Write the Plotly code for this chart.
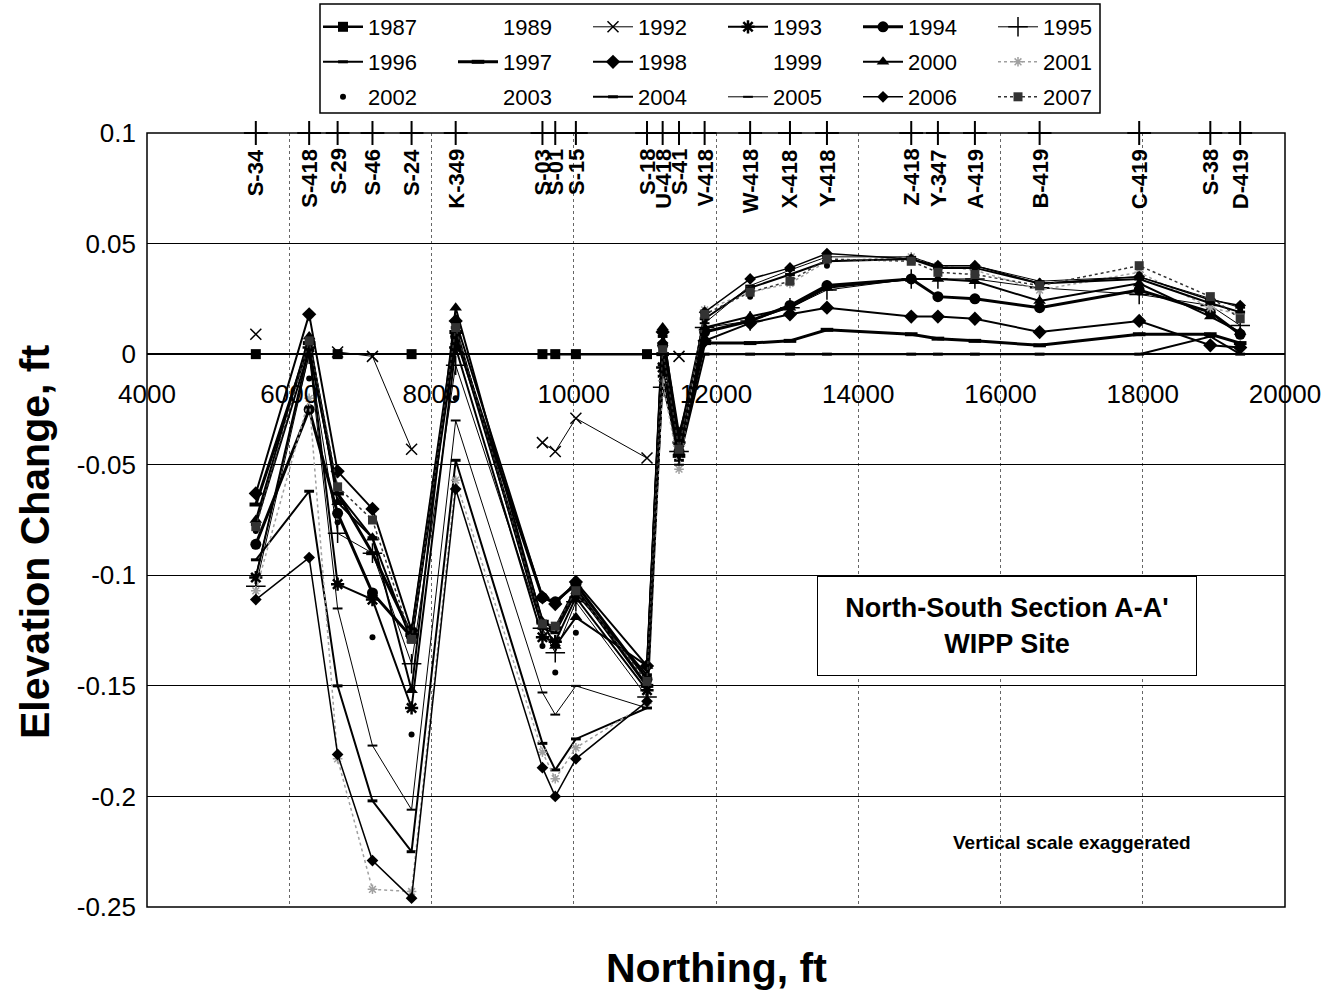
import plotly.graph_objects as go

N = None

# Survey stations along the north-south line and their northing (ft)
stations = ["S-34", "S-418", "S-29", "S-46", "S-24", "K-349", "S-03", "S-01", "S-15",
            "S-18", "U-418", "S-41", "V-418", "W-418", "X-418", "Y-418", "Z-418",
            "Y-347", "A-419", "B-419", "C-419", "S-38", "D-419"]
northing = [5530, 6280, 6680, 7170, 7720, 8340, 9560, 9740, 10030, 11030, 11250, 11480,
            11840, 12480, 13040, 13560, 14745, 15120, 15640, 16550, 17950, 18950, 19370]

# Elevation change (ft) per survey year, one value per station
y1987 = [0, N, 0, N, 0, N, 0, 0, 0, 0] + [N] * 13
y1989 = [N] * 23
y1992 = [0.009, N, 0.001, -0.001, -0.043, N, -0.040, -0.044, -0.029, -0.047, N, -0.001] + [N] * 11
y1993 = [-0.101, 0.003, -0.104, -0.111, -0.160, 0.003, -0.128, -0.130, -0.110, -0.152, -0.006, -0.040] + [N] * 11
y1994 = [-0.086, -0.025, -0.072, -0.108, -0.128, 0.008, -0.110, -0.112, -0.104, -0.147, 0.004, -0.044, 0.010,
         0.015, 0.022, 0.031, 0.034, 0.026, 0.025, 0.021, 0.029, 0.019, 0.009]
y1995 = [-0.105, 0.000, -0.081, -0.090, -0.140, -0.005, -0.124, -0.135, -0.112, -0.155, -0.015, -0.044, 0.012,
         0.015, 0.021, 0.029, 0.034, 0.034, 0.034, 0.030, 0.027, 0.022, 0.013]
y1996 = [-0.093, -0.062, -0.150, -0.202, -0.225, -0.048, -0.176, -0.188, -0.174, -0.160, -0.010, -0.048, 0.000,
         0.000, 0.000, 0.000, 0.000, 0.000, 0.000, 0.000, 0.000, 0.008, 0.000]
y1997 = [-0.068, 0.005, -0.063, -0.090, -0.127, 0.010, -0.121, -0.124, -0.106, -0.150, 0.000, -0.046, 0.005,
         0.005, 0.006, 0.011, 0.009, 0.007, 0.006, 0.004, 0.009, 0.009, 0.005]
y1998 = [-0.063, 0.018, -0.053, -0.070, -0.125, 0.015, -0.110, -0.113, -0.103, -0.141, 0.010, -0.036, 0.006,
         0.014, 0.018, 0.021, 0.017, 0.017, 0.016, 0.010, 0.015, 0.004, 0.003]
y1999 = [N] * 23
y2000 = [-0.075, 0.008, -0.067, -0.083, -0.152, 0.021, -0.121, -0.132, -0.119, -0.141, 0.012, -0.040, 0.012,
         0.017, 0.021, 0.030, 0.034, 0.034, 0.033, 0.024, 0.032, 0.017, 0.010]
y2001 = [-0.107, -0.020, -0.183, -0.242, -0.243, -0.057, -0.180, -0.192, -0.178, -0.158, -0.012, -0.052, 0.020,
         0.028, 0.032, 0.042, 0.044, 0.040, 0.038, 0.029, 0.037, 0.021, 0.018]
y2002 = [-0.080, -0.011, -0.076, -0.128, -0.172, -0.020, -0.132, -0.144, -0.126, -0.152, -0.006, -0.045, 0.015,
         0.026, 0.034, 0.040, 0.042, 0.038, 0.038, 0.032, 0.036, 0.024, 0.020]
y2003 = [N] * 23
y2004 = [-0.077, 0.002, -0.063, -0.083, -0.130, 0.012, -0.124, -0.126, -0.108, -0.145, 0.008, -0.038, 0.016,
         0.030, 0.036, 0.042, 0.043, 0.039, 0.039, 0.032, 0.034, 0.023, 0.019]
y2005 = [-0.100, 0.000, -0.115, -0.177, -0.206, -0.030, -0.153, -0.163, -0.150, -0.160, -0.005, -0.050, 0.014,
         0.031, 0.038, 0.044, 0.044, 0.040, 0.040, 0.033, 0.035, 0.025, 0.021]
y2006 = [-0.111, -0.092, -0.181, -0.229, -0.246, -0.061, -0.187, -0.200, -0.183, -0.157, 0.005, -0.045, 0.019,
         0.034, 0.039, 0.0455, 0.043, 0.040, 0.040, 0.032, 0.035, 0.0245, 0.022]
y2007 = [-0.078, 0.006, -0.060, -0.075, -0.129, 0.012, -0.122, -0.123, -0.107, -0.148, 0.002, -0.043, 0.018,
         0.028, 0.033, 0.043, 0.042, 0.037, 0.036, 0.031, 0.040, 0.026, 0.016]

years = ["1987", "1989", "1992", "1993", "1994", "1995",
         "1996", "1997", "1998", "1999", "2000", "2001",
         "2002", "2003", "2004", "2005", "2006", "2007"]
values = [y1987, y1989, y1992, y1993, y1994, y1995,
          y1996, y1997, y1998, y1999, y2000, y2001,
          y2002, y2003, y2004, y2005, y2006, y2007]

y_ticks = [0.1, 0.05, 0, -0.05, -0.1, -0.15, -0.2, -0.25]
y_tick_text = ["0.1", "0.05", "0", "-0.05", "-0.1", "-0.15", "-0.2", "-0.25"]
x_ticks = [4000, 6000, 8000, 10000, 12000, 14000, 16000, 18000, 20000]
x_tick_text = [str(v) for v in x_ticks]

BLK = "black"
CLEAR = "rgba(0,0,0,0)"
# mode, line colour, width, dash, marker symbol, marker size, marker line width
styles = {
    "1987": ("lines+markers", BLK, 2.5, "solid", "square", 10, 0),
    "1989": ("lines", CLEAR, 1, "solid", "circle", 1, 0),
    "1992": ("lines+markers", BLK, 1, "solid", "x-thin-open", 11, 1.5),
    "1993": ("lines+markers", BLK, 2, "solid", "asterisk-open", 11, 2.5),
    "1994": ("lines+markers", BLK, 3, "solid", "circle", 11, 0),
    "1995": ("lines+markers", BLK, 1, "solid", "cross-thin-open", 14, 1.5),
    "1996": ("lines+markers", BLK, 2, "solid", "line-ew-open", 7, 3),
    "1997": ("lines+markers", BLK, 3, "solid", "line-ew-open", 9, 4),
    "1998": ("lines+markers", BLK, 2, "solid", "diamond", 11, 0),
    "1999": ("lines", CLEAR, 1, "solid", "circle", 1, 0),
    "2000": ("lines+markers", BLK, 2, "solid", "triangle-up", 11, 0),
    "2001": ("lines+markers", "#a0a0a0", 1.5, "dot", "asterisk-open", 8, 1.5),
    "2002": ("markers", BLK, 1, "solid", "circle", 6, 0),
    "2003": ("lines", CLEAR, 1, "solid", "circle", 1, 0),
    "2004": ("lines+markers", BLK, 2, "solid", "line-ew-open", 7, 3),
    "2005": ("lines+markers", BLK, 1, "solid", "line-ew-open", 7, 2),
    "2006": ("lines+markers", BLK, 1.5, "solid", "diamond", 9, 0),
    "2007": ("lines+markers", "#333333", 1.5, "dot", "square", 9, 0),
}

FONT = "Arial, Liberation Sans, sans-serif"
FIG_W, FIG_H = 1344, 996
fig = go.Figure()

# Station markers along the top edge
fig.add_trace(go.Scatter(
    x=northing, y=[0.1] * len(northing), mode="markers",
    marker=dict(symbol="cross-thin-open", size=17, color=BLK,
                line=dict(width=2, color=BLK)),
    cliponaxis=False, showlegend=False, hoverinfo="text", text=stations))

legend_names = ["legend", "legend2", "legend3"]
for i, (yr, vals) in enumerate(zip(years, values)):
    mode, col, w, dash, sym, msz, mlw = styles[yr]
    fig.add_trace(go.Scatter(
        x=northing, y=vals, name=yr, mode=mode,
        line=dict(color=col, width=w, dash=dash),
        marker=dict(symbol=sym, size=msz, color=col,
                    line=dict(width=mlw, color=col)),
        connectgaps=False, cliponaxis=False,
        legend=legend_names[i // 6]))

# Station name labels, rotated
for name, xn in zip(stations, northing):
    fig.add_annotation(x=xn, y=0.1, xref="x", yref="y", text=name,
                       textangle=-90, showarrow=False, xanchor="center", yanchor="top",
                       yshift=-14, font=dict(family=FONT, size=22, color=BLK, weight="bold"))

# Plot area: 147..1285 px wide, 133..907 px tall
L, R, T, B = 147, 1285, 133, 907
W, H = R - L, B - T

def px_x(p):
    return (p - L) / W

def px_y(p):
    return (B - p) / H

def cx(p):
    return p / FIG_W

def cy(p):
    return 1 - p / FIG_H

leg_common = dict(orientation="h", xanchor="left", yanchor="top",
                  xref="container", yref="container",
                  font=dict(family=FONT, size=22, color=BLK),
                  bgcolor=CLEAR, borderwidth=0, itemwidth=40,
                  entrywidth=80, entrywidthmode="pixels",
                  tracegroupgap=0, itemclick=False)
fig.update_layout(
    legend=dict(x=cx(318), y=cy(6), **leg_common),
    legend2=dict(x=cx(318), y=cy(41), **leg_common),
    legend3=dict(x=cx(318), y=cy(76), **leg_common),
)

# Legend frame
fig.add_shape(type="rect", xref="paper", yref="paper",
              x0=px_x(320), x1=px_x(1100), y0=px_y(113), y1=px_y(4),
              line=dict(color=BLK, width=1.5))
# Plot frame
fig.add_shape(type="rect", xref="paper", yref="paper", x0=0, x1=1, y0=0, y1=1,
              line=dict(color=BLK, width=1.5), layer="above")

# Text box
fig.add_annotation(x=px_x(1007), y=px_y(626), xref="paper", yref="paper",
                   xanchor="center", yanchor="middle",
                   text="North-South Section A-A'<br>WIPP Site", showarrow=False,
                   font=dict(family=FONT, size=27, color=BLK, weight="bold"),
                   bordercolor=BLK, borderwidth=1, borderpad=4, bgcolor="white",
                   width=370, height=90, align="center")
fig.add_annotation(x=px_x(1072), y=px_y(842), xref="paper", yref="paper",
                   xanchor="center", yanchor="middle",
                   text="Vertical scale exaggerated", showarrow=False,
                   font=dict(family=FONT, size=19, color=BLK, weight="bold"))

# Axis titles
fig.add_annotation(x=0.5, y=px_y(968), xref="paper", yref="paper",
                   xanchor="center", yanchor="middle",
                   text="Northing, ft", showarrow=False,
                   font=dict(family=FONT, size=41, color=BLK, weight="bold"))
fig.add_annotation(x=px_x(35), y=px_y(542), xref="paper", yref="paper",
                   xanchor="center", yanchor="middle",
                   text="Elevation Change, ft", showarrow=False, textangle=-90,
                   font=dict(family=FONT, size=41, color=BLK, weight="bold"))

fig.update_xaxes(range=[4000, 20000], tickvals=x_ticks, ticktext=x_tick_text, ticks="",
                 tickfont=dict(family=FONT, size=26, color=BLK),
                 showgrid=True, gridcolor="#666666", griddash="dot", gridwidth=1,
                 anchor="free", position=0.25 / 0.35, showline=True,
                 linecolor=BLK, linewidth=1.5, zeroline=False,
                 ticklabelstandoff=17)
fig.update_yaxes(range=[-0.25, 0.1], tickvals=y_ticks, ticktext=y_tick_text,
                 ticks="", tickfont=dict(family=FONT, size=26, color=BLK),
                 showgrid=True, gridcolor=BLK, gridwidth=1, zeroline=False,
                 showline=False, ticklabelstandoff=10)

fig.update_layout(
    width=FIG_W, height=FIG_H,
    margin=dict(l=L, r=FIG_W - R, t=T, b=FIG_H - B, autoexpand=False),
    paper_bgcolor="white", plot_bgcolor="white",
    font=dict(family=FONT, color=BLK),
    hovermode=False,
)

fig.write_html("out.html")
